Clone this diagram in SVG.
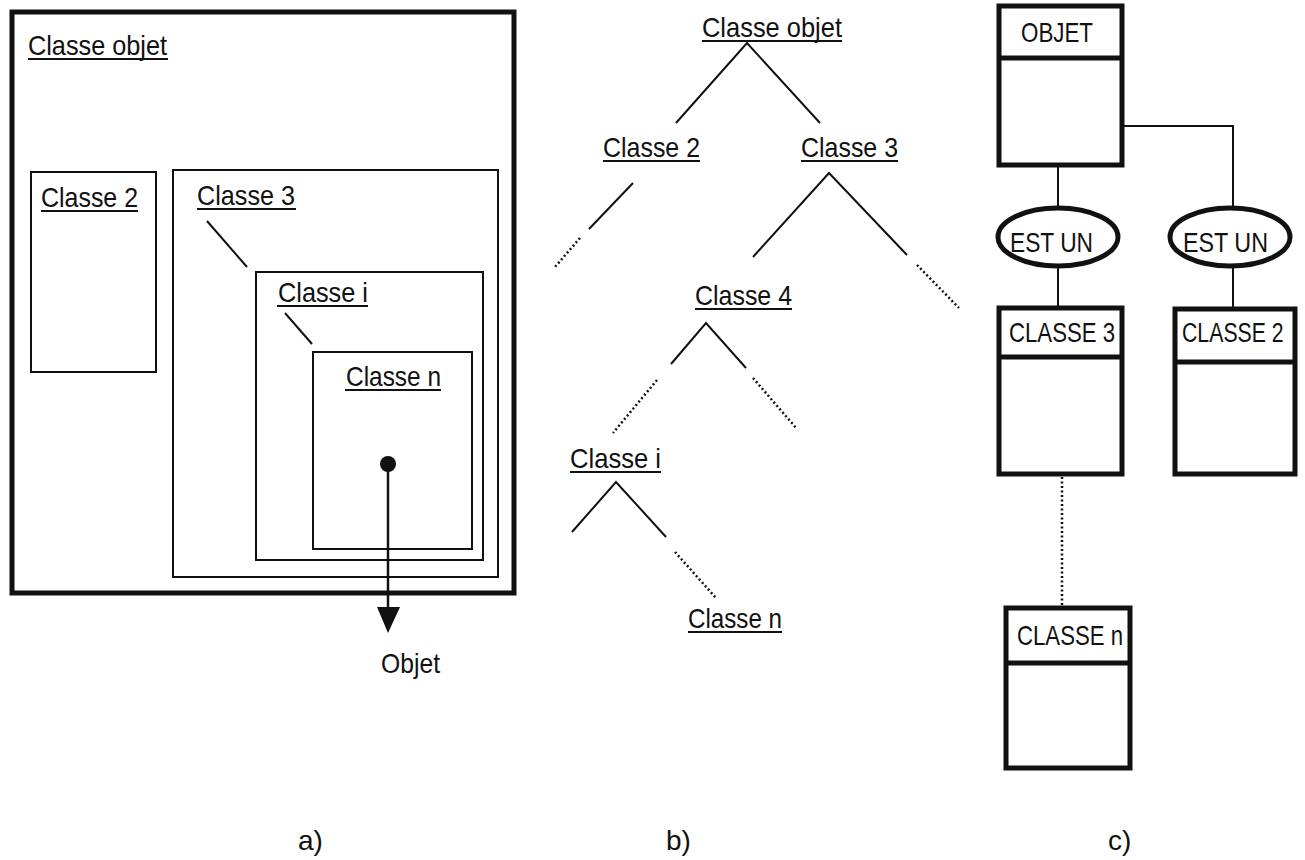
<svg xmlns="http://www.w3.org/2000/svg" width="1305" height="860" viewBox="0 0 1305 860">
<style>
text{font-family:"Liberation Sans","DejaVu Sans",sans-serif;font-size:28px;fill:#111;}
.thin{fill:none;stroke:#111;stroke-width:2;}
.thick{fill:#fff;stroke:#111;stroke-width:5;}
.ul{stroke:#111;stroke-width:2;}
.dot{stroke:#111;stroke-width:2.5;stroke-dasharray:2 2.5;fill:none;}
</style>
<rect width="1305" height="860" fill="#fff"/>

<!-- Panel a -->
<g id="a-objet">
<rect x="12" y="12" width="502" height="581" fill="none" stroke="#111" stroke-width="5"/>
<text x="28" y="55" textLength="139" lengthAdjust="spacingAndGlyphs">Classe objet</text>
<line class="ul" x1="28" y1="59" x2="168" y2="59"/>
</g>
<g id="a-classe2">
<rect class="thin" x="31" y="172" width="125" height="200"/>
<text x="41" y="207" textLength="97" lengthAdjust="spacingAndGlyphs">Classe 2</text>
<line class="ul" x1="41" y1="211" x2="138" y2="211"/>
</g>
<g id="a-classe3">
<rect class="thin" x="173" y="170" width="325" height="407"/>
<text x="197" y="205" textLength="98" lengthAdjust="spacingAndGlyphs">Classe 3</text>
<line class="ul" x1="197" y1="209" x2="296" y2="209"/>
</g>
<g id="a-classei">
<rect class="thin" x="256" y="272" width="227" height="288"/>
<text x="278" y="302" textLength="90" lengthAdjust="spacingAndGlyphs">Classe i</text>
<line class="ul" x1="277" y1="306" x2="368" y2="306"/>
</g>
<g id="a-classen">
<rect class="thin" x="313" y="352" width="159" height="197"/>
<text x="346" y="386" textLength="95" lengthAdjust="spacingAndGlyphs">Classe n</text>
<line class="ul" x1="345" y1="390" x2="441" y2="390"/>
</g>
<g id="a-objet-label">
<text x="381" y="673" textLength="59" lengthAdjust="spacingAndGlyphs">Objet</text>
</g>
<g id="a-connectors">
<line class="thin" x1="207" y1="221" x2="247" y2="267"/>
<line class="thin" x1="285" y1="313" x2="312" y2="344"/>
<circle cx="388" cy="464" r="8" fill="#111"/>
<line x1="388" y1="464" x2="388" y2="612" stroke="#111" stroke-width="2.5"/>
<polygon points="377,607 400,607 388,633" fill="#111"/>
</g>

<!-- Panel b -->
<g id="b-objet">
<text x="702" y="37" textLength="140" lengthAdjust="spacingAndGlyphs">Classe objet</text>
<line class="ul" x1="702" y1="41" x2="842" y2="41"/>
</g>
<g id="b-classe2">
<text x="603" y="157" textLength="97" lengthAdjust="spacingAndGlyphs">Classe 2</text>
<line class="ul" x1="603" y1="161" x2="700" y2="161"/>
</g>
<g id="b-classe3">
<text x="801" y="157" textLength="97" lengthAdjust="spacingAndGlyphs">Classe 3</text>
<line class="ul" x1="801" y1="161" x2="898" y2="161"/>
</g>
<g id="b-classe4">
<text x="695" y="305" textLength="97" lengthAdjust="spacingAndGlyphs">Classe 4</text>
<line class="ul" x1="695" y1="309" x2="792" y2="309"/>
</g>
<g id="b-classei">
<text x="570" y="468" textLength="91" lengthAdjust="spacingAndGlyphs">Classe i</text>
<line class="ul" x1="570" y1="472" x2="661" y2="472"/>
</g>
<g id="b-classen">
<text x="688" y="628" textLength="94" lengthAdjust="spacingAndGlyphs">Classe n</text>
<line class="ul" x1="688" y1="632" x2="782" y2="632"/>
</g>
<g id="b-connectors">
<polyline class="thin" points="676,123 747,43 820,123"/>
<line class="thin" x1="633" y1="183" x2="589" y2="229"/>
<line class="dot" x1="580" y1="238" x2="555" y2="267"/>
<polyline class="thin" points="753,257 829,173 907,255"/>
<line class="dot" x1="917" y1="265" x2="959" y2="308"/>
<polyline class="thin" points="671,364 706,323 746,368"/>
<line class="dot" x1="657" y1="380" x2="613" y2="433"/>
<line class="dot" x1="753" y1="378" x2="797" y2="429"/>
<polyline class="thin" points="572,532 616,482 666,537"/>
<line class="dot" x1="675" y1="552" x2="716" y2="598"/>
</g>

<!-- Panel c -->
<g id="c-connectors">
<line class="thin" x1="1058" y1="165" x2="1058" y2="208"/>
<polyline class="thin" points="1122,126 1233,126 1233,208"/>
<line class="thin" x1="1058" y1="267" x2="1058" y2="308"/>
<line class="thin" x1="1233" y1="267" x2="1233" y2="309"/>
<line class="dot" x1="1062" y1="477" x2="1062" y2="606"/>
</g>
<g id="c-objet">
<rect class="thick" x="999" y="6" width="123" height="159"/>
<line stroke="#111" stroke-width="5" x1="999" y1="58" x2="1122" y2="58"/>
<text x="1021" y="42" textLength="72" lengthAdjust="spacingAndGlyphs">OBJET</text>
</g>
<g id="c-estun1">
<ellipse class="thick" cx="1058" cy="237" rx="60" ry="29"/>
<text x="1010" y="252" textLength="83" lengthAdjust="spacingAndGlyphs">EST UN</text>
</g>
<g id="c-estun2">
<ellipse class="thick" cx="1230" cy="237" rx="60" ry="29"/>
<text x="1183" y="252" textLength="85" lengthAdjust="spacingAndGlyphs">EST UN</text>
</g>
<g id="c-classe3">
<rect class="thick" x="999" y="308" width="123" height="166"/>
<line stroke="#111" stroke-width="5" x1="999" y1="357" x2="1122" y2="357"/>
<text x="1009" y="342" textLength="106" lengthAdjust="spacingAndGlyphs">CLASSE 3</text>
</g>
<g id="c-classe2">
<rect class="thick" x="1175" y="309" width="120" height="165"/>
<line stroke="#111" stroke-width="5" x1="1175" y1="362" x2="1295" y2="362"/>
<text transform="translate(1182 342) scale(0.76 1)" x="0" y="0">CLASSE 2</text>
</g>
<g id="c-classen">
<rect class="thick" x="1006" y="608" width="124" height="160"/>
<line stroke="#111" stroke-width="5" x1="1006" y1="663" x2="1130" y2="663"/>
<text x="1017" y="645" textLength="106" lengthAdjust="spacingAndGlyphs">CLASSE n</text>
</g>

<!-- Captions -->
<g id="captions">
<text x="298" y="850">a)</text>
<text x="666" y="850">b)</text>
<text x="1108" y="850">c)</text>
</g>
</svg>
